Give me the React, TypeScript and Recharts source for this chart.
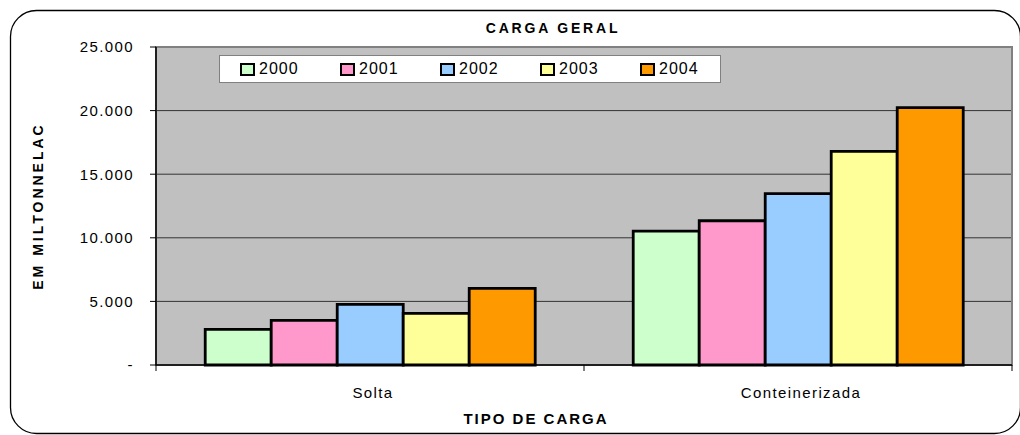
import { BarChart, Bar, XAxis, YAxis, CartesianGrid, ReferenceArea } from 'recharts';

const categories = ['Solta', 'Conteinerizada'];
const years = ['2000', '2001', '2002', '2003', '2004'];
const colors = ['#CCFFCC', '#FF99CC', '#99CCFF', '#FFFF99', '#FF9900'];
const v2000 = [2800, 10530];
const v2001 = [3510, 11340];
const v2002 = [4770, 13470];
const v2003 = [4060, 16800];
const v2004 = [6030, 20230];
const yTicks = [0, 5000, 10000, 15000, 20000, 25000];

const series = [v2000, v2001, v2002, v2003, v2004];
const data = categories.map((c, i) => {
  const row: any = { name: c };
  years.forEach((y, k) => { row[y] = series[k][i]; });
  return row;
});

const font = '"Liberation Sans", Arial, sans-serif';

// category label plus Excel-style tick marks on the category boundaries
function CatTick(props: any) {
  const { x, y, payload, index } = props;
  const half = payload && payload.offset ? payload.offset : 214;
  return (
    <g>
      <line x1={x - half} x2={x - half} y1={y} y2={y + 6} stroke="#000" strokeWidth={1} />
      {index === categories.length - 1 && (
        <line x1={x + half} x2={x + half} y1={y} y2={y + 6} stroke="#000" strokeWidth={1} />
      )}
      <text x={x + 3} y={y + 33} textAnchor="middle" fill="#000" fontSize={15} fontFamily={font} letterSpacing={1.4}>
        {payload.value}
      </text>
    </g>
  );
}

function LegendBox() {
  return (
    <div style={{ position: 'absolute', left: 219, top: 55, width: 500, height: 26, background: '#fff', border: '1px solid #808080', fontFamily: font, fontSize: 16, letterSpacing: 1 }}>
      {years.map((y, i) => (
        <div key={y} style={{ position: 'absolute', left: 20 + i * 100, top: 0, height: 26, display: 'flex', alignItems: 'center' }}>
          <div style={{ width: 11, height: 9, background: colors[i], border: '2px solid #000', marginRight: 4 }} />
          <span>{y}</span>
        </div>
      ))}
    </div>
  );
}

export default function App() {
  return (
    <div style={{ position: 'absolute', left: 0, top: 0, width: 1020, height: 435, background: '#fff', overflow: 'hidden' }}>
      <svg width={1020} height={435} style={{ position: 'absolute', left: 0, top: 0 }}>
        <rect x={10.5} y={10.5} width={1010} height={423} rx={26} ry={26} fill="#fff" stroke="#000" strokeWidth={1.3} />
      </svg>
      <div style={{ position: 'absolute', left: 0, top: 0 }}>
        <BarChart
          width={1020}
          height={435}
          data={data}
          margin={{ top: 47, right: 8, left: 96, bottom: 30 }}
          barGap={0}
          barCategoryGap="11.5%"
        >
          <CartesianGrid vertical={false} stroke="#333" fill="#C0C0C0" fillOpacity={1} />
          <ReferenceArea y1={0} y2={25000} fill="none" stroke="#808080" strokeWidth={2} />
          <XAxis
            dataKey="name"
            height={40}
            axisLine={{ stroke: '#000', strokeWidth: 1.5 }}
            tickLine={false}
            tickSize={0}
            tickMargin={0}
            tick={<CatTick />}
            interval={0}
          />
          <YAxis
            domain={[0, 25000]}
            ticks={yTicks}
            width={60}
            interval={0}
            tickFormatter={(v: number) => (v === 0 ? '-' : (v / 1000).toFixed(3))}
            tick={{ fill: '#000', fontSize: 15, fontFamily: font, letterSpacing: 1.4 }}
            axisLine={{ stroke: '#000', strokeWidth: 1.5 }}
            tickLine={{ stroke: '#000' }}
            tickSize={6}
            tickMargin={16}
          />
          {years.map((y, i) => (
            <Bar key={y} dataKey={y} fill={colors[i]} stroke="#000" strokeWidth={2.8} isAnimationActive={false} />
          ))}
        </BarChart>
      </div>
      <LegendBox />
      <div style={{ position: 'absolute', left: 0, width: 1106, top: 19, textAlign: 'center', fontFamily: font, fontWeight: 'bold', fontSize: 14, letterSpacing: 2.8, lineHeight: '18px' }}>CARGA GERAL</div>
      <div style={{ position: 'absolute', left: 0, width: 1072, top: 410, textAlign: 'center', fontFamily: font, fontWeight: 'bold', fontSize: 15, letterSpacing: 2, lineHeight: '18px' }}>TIPO DE CARGA</div>
      <div style={{ position: 'absolute', left: 38 - 110, top: 206 - 9, width: 220, textAlign: 'center', transform: 'rotate(-90deg)', fontFamily: font, fontWeight: 'bold', fontSize: 14, letterSpacing: 3, lineHeight: '18px' }}>EM MILTONNELAC</div>
    </div>
  );
}
